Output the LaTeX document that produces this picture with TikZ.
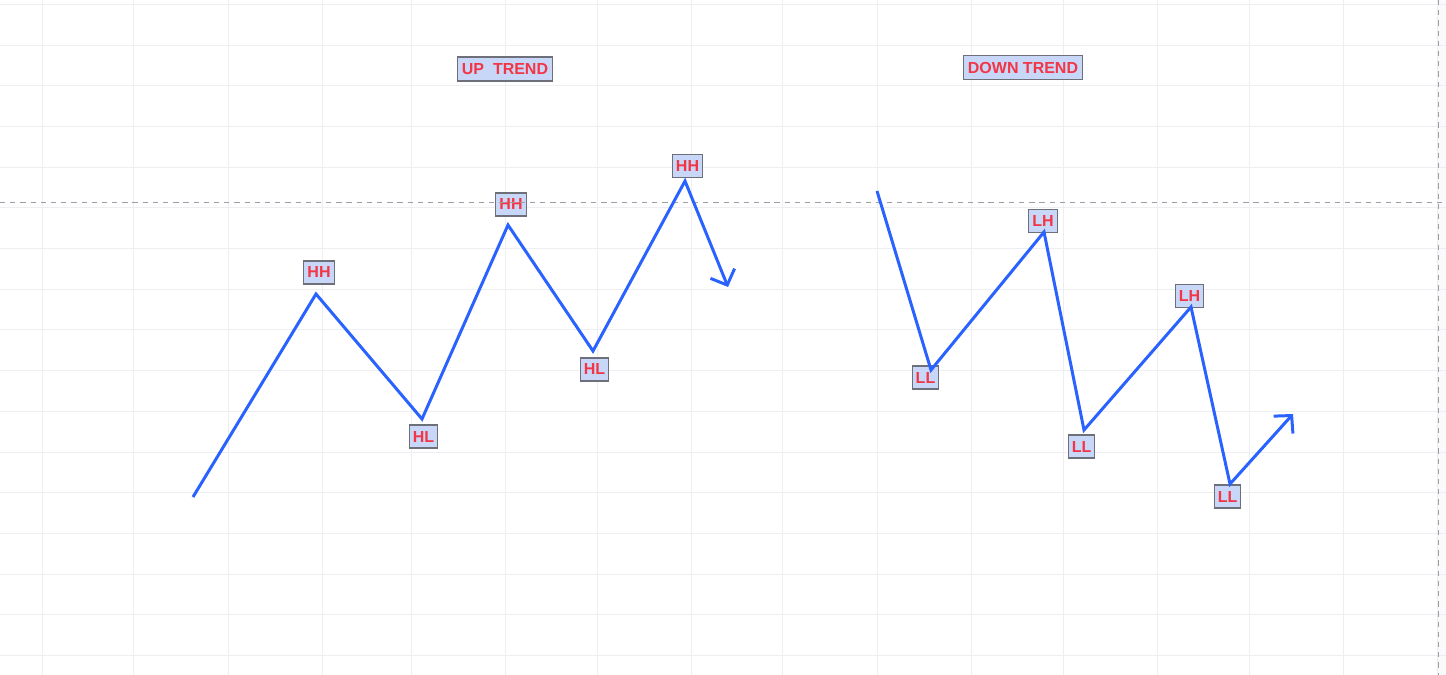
\documentclass[tikz,border=0pt]{standalone}
\usepackage{fontspec}
\setsansfont{Liberation Sans}
\usepackage{xcolor}
\usetikzlibrary{arrows.meta}
\definecolor{swingblue}{HTML}{2962FF}
\definecolor{pivotred}{HTML}{F23645}
\definecolor{pivotfill}{HTML}{C8D6F8}
\definecolor{pivotedge}{HTML}{6E7079}
\definecolor{gridgray}{HTML}{EDEEF1}
\definecolor{dashgray}{HTML}{9C9EA4}
\tikzset{
    gridline/.style={draw=gridgray, line width=0.55pt},
    crosshair/.style={draw=dashgray, line width=0.6pt, dash pattern=on 3pt off 2.8pt},
    swing/.style={draw=swingblue, line width=1.7pt},
    headarrow/.style={-{Straight Barb[length=0.25cm, width=0.52cm]}},
    pivot/.style={rectangle, draw=pivotedge, line width=0.6pt, fill=pivotfill, text=pivotred,
        font=\sffamily\bfseries\fontsize{9.1}{10}\selectfont, inner xsep=0.07cm, inner ysep=0pt,
        minimum height=0.46cm},
    trendtitle/.style={pivot, minimum height=0.48cm, inner xsep=0.08cm}
}

\begin{document}
\begin{tikzpicture}[x=0.02cm, y=-0.02cm]
        \useasboundingbox (0,0) rectangle (1446,675);
        \fill[white] (0,0) rectangle (1446,675);
        \fill[black!2] (1438,0) rectangle (1446,675);

        % Grid
        \foreach \gx in {42,133,228,322,411,505,597,691,782,877,971,1063,1157,1249,1343,1437}
            \draw[gridline] (\gx,0) -- (\gx,675);
        \foreach \i in {0,...,16}
            \draw[gridline] (0,{4.3+40.7*\i}) -- (1446,{4.3+40.7*\i});

        % Titles
        \node[trendtitle] (titleUp) at (505,69) {UP\ \ TREND};
        \node[trendtitle] (titleDown) at (1023,67.5) {DOWN TREND};

        % Up trend pivots
        \coordinate (u0) at (193,497);
        \coordinate (u1) at (316,294);
        \coordinate (u2) at (422,419);
        \coordinate (u3) at (508,225);
        \coordinate (u4) at (593,351);
        \coordinate (u5) at (685,181);
        \coordinate (uEnd) at (728,287);
        \node[pivot] (hh1) at (319,272.5) {HH};
        \node[pivot] (hl1) at (423.5,436.5) {HL};
        \node[pivot] (hh2) at (511,204.5) {HH};
        \node[pivot] (hl2) at (594.5,369.5) {HL};
        \node[pivot] (hh3) at (687.5,166) {HH};

        % Down trend pivots
        \coordinate (d0) at (877,191);
        \coordinate (d1) at (931,370);
        \coordinate (d2) at (1044,232);
        \coordinate (d3) at (1084,430);
        \coordinate (d4) at (1191,307);
        \coordinate (d5) at (1230,484);
        \coordinate (dEnd) at (1293,414);
        \node[pivot] (ll1) at (925.5,377.5) {LL};
        \node[pivot] (lh1) at (1043,221) {LH};
        \node[pivot] (ll2) at (1081.5,446.5) {LL};
        \node[pivot] (lh2) at (1189.5,296) {LH};
        \node[pivot] (ll3) at (1227.5,496.5) {LL};

        % Crosshair
        \coordinate (hLeft) at (0,202.5);
        \coordinate (hRight) at (1446,202.5);
        \coordinate (vTop) at (1438.5,0);
        \coordinate (vBottom) at (1438.5,675);
        \draw[crosshair] (hLeft) -- (hRight);
        \draw[crosshair] (vTop) -- (vBottom);

        % Swings
        \draw[swing, headarrow] (u0) -- (u1) -- (u2) -- (u3) -- (u4) -- (u5) -- (uEnd);
        \draw[swing, headarrow] (d0) -- (d1) -- (d2) -- (d3) -- (d4) -- (d5) -- (dEnd);
    \end{tikzpicture}
\end{document}
